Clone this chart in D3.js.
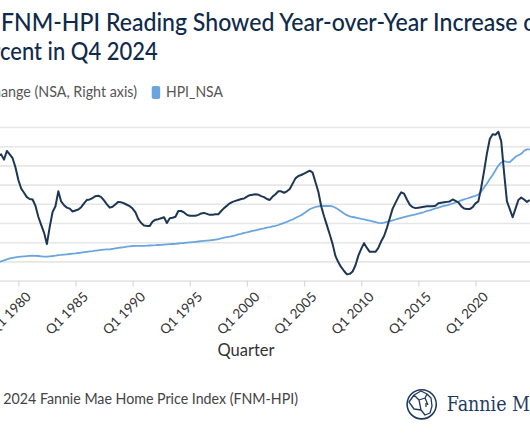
<!DOCTYPE html>
<html><head><meta charset="utf-8">
<script src="https://cdn.jsdelivr.net/npm/d3@7"></script>
<style>html,body{margin:0;padding:0;background:#fff;overflow:hidden}</style>
</head><body><svg id="chart" width="530" height="442"></svg>
<script>
// ---- Data (quarterly, starting Q2 1978, ending Q4 2024) ----
const startYear = 1978, startQuarter = 2;
const yoyChange = [
  14.0, 14.3, 13.2,
  15.0, 14.3, 13.5, 11.6,
  9.0, 7.2, 6.3, 5.4,
  5.0, 4.9, 3.6, 1.3,
  -0.4, -2.0, -4.4, -0.8,
  2.3, 3.5, 6.6, 4.5,
  3.7, 3.2, 3.0, 2.4,
  2.6, 2.8, 3.3, 4.1,
  4.8, 4.9, 5.2, 5.6,
  5.7, 5.4, 4.7, 3.9,
  3.2, 3.4, 3.9, 4.4,
  4.3, 4.1, 3.8, 3.5,
  3.0, 2.2, 0.8, 0.0,
  -0.5, -0.6, -0.6, 0.3,
  0.7, 0.8, 1.0, 1.2,
  0.0, 1.0, 1.1, 1.3,
  2.5, 2.5, 2.2, 1.7,
  1.5, 1.5, 1.5, 1.7,
  2.0, 2.1, 1.9, 1.7,
  1.7, 1.8, 1.8, 2.5,
  3.1, 3.6, 4.1, 4.4,
  4.6, 4.8, 5.0, 5.1,
  5.5, 5.8, 5.9, 6.0,
  5.9, 5.6, 5.4, 5.0,
  4.8, 5.5, 6.0, 6.6,
  6.6, 6.3, 6.6, 7.1,
  8.2, 9.3, 9.8, 10.0,
  10.3, 10.6, 10.9, 10.5,
  8.5, 6.5, 3.5, 1.4,
  -0.5, -2.4, -4.4, -6.9,
  -8.2, -9.2, -10.0, -10.7,
  -10.6, -10.1, -8.8, -6.8,
  -5.4, -4.2, -5.2, -6.0,
  -6.0, -6.0, -5.2, -3.8,
  -2.7, -1.0, 1.0, 3.0,
  4.2, 5.4, 6.4, 6.1,
  4.9, 3.8, 3.3, 3.1,
  3.2, 3.3, 3.4, 3.5,
  3.5, 3.5, 3.6, 4.1,
  4.2, 4.3, 4.4, 4.5,
  4.9, 4.6, 4.3, 3.5,
  3.0, 2.9, 2.9, 3.3,
  4.1, 4.5, 7.4, 10.8,
  14.5, 17.5, 18.5, 18.4,
  19.0, 17.0, 10.5, 4.5,
  2.9, 1.2, 3.0, 4.8,
  5.3, 4.9, 4.4, 4.8
];
const hpiNsa = [
  48.4, 50.3, 52.9,
  55.5, 57.8, 59.4, 60.7,
  61.7, 62.5, 63.3, 63.8,
  64.3, 64.8, 64.6, 64.1,
  63.3, 62.5, 62.5, 63.3,
  64.1, 65.1, 66.4, 66.9,
  67.7, 68.5, 69.3, 70.1,
  70.8, 71.9, 72.9, 74.0,
  75.0, 76.0, 76.8, 77.9,
  78.9, 79.9, 80.7, 81.3,
  81.5, 82.8, 84.1, 85.2,
  86.2, 87.2, 88.5, 89.3,
  90.1, 90.6, 90.4, 90.4,
  90.6, 90.9, 91.4, 91.9,
  92.2, 92.7, 93.2, 93.8,
  94.3, 94.8, 95.3, 95.8,
  96.6, 97.4, 97.9, 98.7,
  99.5, 100.3, 101.0, 101.8,
  102.6, 103.4, 104.2, 104.9,
  105.7, 107.0, 108.3, 109.9,
  111.7, 113.3, 114.3, 116.1,
  118.0, 120.1, 121.9, 124.0,
  125.5, 127.3, 129.2, 131.0,
  132.8, 134.4, 135.9, 137.8,
  139.1, 140.9, 142.7, 144.8,
  147.9, 150.5, 153.1, 156.5,
  159.1, 163.0, 166.9, 170.3,
  175.5, 180.5, 185.7, 189.1,
  191.7, 193.5, 194.3, 194.3,
  194.3, 194.3, 193.0, 189.6,
  185.2, 180.0, 174.7, 170.3,
  167.4, 165.6, 164.3, 162.5,
  160.9, 159.6, 157.8, 156.0,
  154.4, 152.6, 150.5, 149.7,
  151.0, 153.1, 155.2, 157.0,
  159.1, 161.5, 163.5, 165.6,
  167.4, 169.0, 170.8, 172.4,
  174.5, 176.6, 178.6, 181.3,
  183.1, 185.4, 188.0, 190.1,
  192.4, 194.5, 196.1, 198.2,
  200.8, 203.4, 206.0, 208.9,
  211.7, 213.8, 216.1, 218.5,
  220.8, 224.2, 232.0, 242.4,
  252.9, 264.6, 275.0, 287.2,
  299.7, 307.6, 310.9, 309.4,
  308.3, 315.4, 322.4, 326.3,
  330.2, 338.0, 341.7, 341.9
];
const xTickYears = [1975, 1980, 1985, 1990, 1995, 2000, 2005, 2010, 2015, 2020];
const yoyTicks = [-12, -8, -4, 0, 4, 8, 12, 16, 20];
const hpiDomain = [0, 400];
const seriesNames = ["YoY % Change (NSA, Right axis)", "HPI_NSA"];
const titleLine1 = "FNM-HPI Reading Showed Year-over-Year Increase of";
const titleLine2 = "Percent in Q4 2024";
const xAxisTitle = "Quarter";
const sourceText = "2024 Fannie Mae Home Price Index (FNM-HPI)";
const logoText = "Fannie Mae";

// ---- Build rows ----
const rows = yoyChange.map((v, i) => {
  const qi = (startQuarter - 1) + i;
  const year = startYear + Math.floor(qi / 4);
  const q = qi % 4 + 1;
  return { label: "Q" + q + " " + year, t: year + (q - 1) / 4, yoy: v, hpi: hpiNsa[i] };
});

const svg = d3.select("#chart");
const FONT = "'Source Sans Pro', Lato, 'Open Sans', sans-serif";
svg.append("rect").attr("width", 530).attr("height", 442).attr("fill", "#fff");

const plotLeft = -60, plotRight = 530, plotTop = 127, plotBottom = 280.6;
const x = d3.scaleLinear().domain([1980, 2024.75]).range([18.3, 529.8]);
const yR = d3.scaleLinear().domain([-12, 20]).range([plotBottom, plotTop]);
const yL = d3.scaleLinear().domain(hpiDomain).range([plotBottom, plotTop]);

// gridlines
const grid = svg.append("g").attr("transform", `translate(${plotLeft},0)`)
  .call(d3.axisLeft(yR).tickValues(yoyTicks).tickSize(-(plotRight - plotLeft)).tickFormat(""));
grid.select(".domain").remove();
grid.selectAll(".tick line").attr("stroke", "#e6e6e6").attr("stroke-width", 1.6);

// x axis
const xa = svg.append("g").attr("transform", `translate(0,${plotBottom})`)
  .call(d3.axisBottom(x).tickValues(xTickYears).tickFormat(d => "Q1 " + d).tickSize(6).tickPadding(4));
xa.select(".domain").remove();
xa.selectAll(".tick line").attr("stroke", "#d9d9d9").attr("stroke-width", 1.2);
xa.selectAll(".tick text")
  .attr("font-family", FONT).attr("font-size", 13.5).attr("fill", "#333")
  .attr("text-anchor", "end").attr("dx", 0).attr("dy", 0)
  .attr("transform", "translate(6,10) rotate(-45)");

// lines
const lineHpi = d3.line().x(d => x(d.t)).y(d => yL(d.hpi));
const lineYoy = d3.line().x(d => x(d.t)).y(d => yR(d.yoy));
svg.append("path").datum(rows).attr("d", lineHpi)
  .attr("fill", "none").attr("stroke", "#6aa5de").attr("stroke-width", 1.8).attr("stroke-linejoin", "round");
svg.append("path").datum(rows).attr("d", lineYoy)
  .attr("fill", "none").attr("stroke", "#1d3654").attr("stroke-width", 2).attr("stroke-linejoin", "round");

// ---- text fitting helper ----
function fit(sel, full, visible, x0, x1, suffix) {
  sel.text(visible); const w = sel.node().getComputedTextLength();
  sel.text(full); const W = sel.node().getComputedTextLength();
  const s = (x1 - x0) / w;
  sel.attr("x", suffix ? x1 - W * s : x0)
     .attr("textLength", W * s).attr("lengthAdjust", "spacingAndGlyphs");
}

// title
const t1 = svg.append("text").attr("y", 31).attr("font-family", FONT).attr("font-size", 25.5)
  .attr("fill", "#0f2a4a").attr("font-weight", 500);
fit(t1, titleLine1, "FNM-HPI Reading Showed Year-over-Year Increase", 1, 517.5, false);
const t2 = svg.append("text").attr("y", 60).attr("font-family", FONT).attr("font-size", 25.5)
  .attr("fill", "#0f2a4a").attr("font-weight", 500);
fit(t2, titleLine2, "cent in Q4 2024", 0, 157.7, true);

// legend
const lg1 = svg.append("text").attr("y", 97).attr("font-family", FONT).attr("font-size", 15.5).attr("fill", "#555");
fit(lg1, "Change (NSA, Right axis)", "ange (NSA, Right axis)", 1, 137, true);
svg.append("rect").attr("x", 151.7).attr("y", 86).attr("width", 8.5).attr("height", 13).attr("rx", 2).attr("fill", "#6aa5de");
const lg2 = svg.append("text").attr("y", 97).attr("font-family", FONT).attr("font-size", 15.5).attr("fill", "#555");
fit(lg2, seriesNames[1], seriesNames[1], 166, 223, false);

// axis title
svg.append("text").attr("x", 246).attr("y", 356).attr("text-anchor", "middle")
  .attr("font-family", FONT).attr("font-size", 16.5).attr("fill", "#333").text(xAxisTitle);

// source
const src = svg.append("text").attr("y", 403.5).attr("font-family", FONT).attr("font-size", 15.5).attr("fill", "#444");
fit(src, sourceText, sourceText, 3.3, 298, false);

// logo
const logo = svg.append("g");
logo.append("circle").attr("cx", 421.7).attr("cy", 404.3).attr("r", 14.6)
  .attr("fill", "none").attr("stroke", "#1f3a5f").attr("stroke-width", 1.6);
logo.append("path")
  .attr("d", "M409,402 L414,395 L421,391 L427,394 L431,398 L432,406 L430,413 L425,415 L421,410 L414,409 Z M414,395 L419,400 L425,398 L427,394 M419,400 L421,410 M425,398 L428,405 M426,403 L426,407")
  .attr("fill", "none").attr("stroke", "#1f3a5f").attr("stroke-width", 1.3).attr("stroke-linejoin", "round");
const lt = svg.append("text").attr("y", 410.5).attr("font-family", "'DejaVu Serif', 'Liberation Serif', serif")
  .attr("font-size", 20).attr("fill", "#1f3a5f");
fit(lt, logoText, "Fannie", 446.7, 506.5, false);
</script></body></html>
